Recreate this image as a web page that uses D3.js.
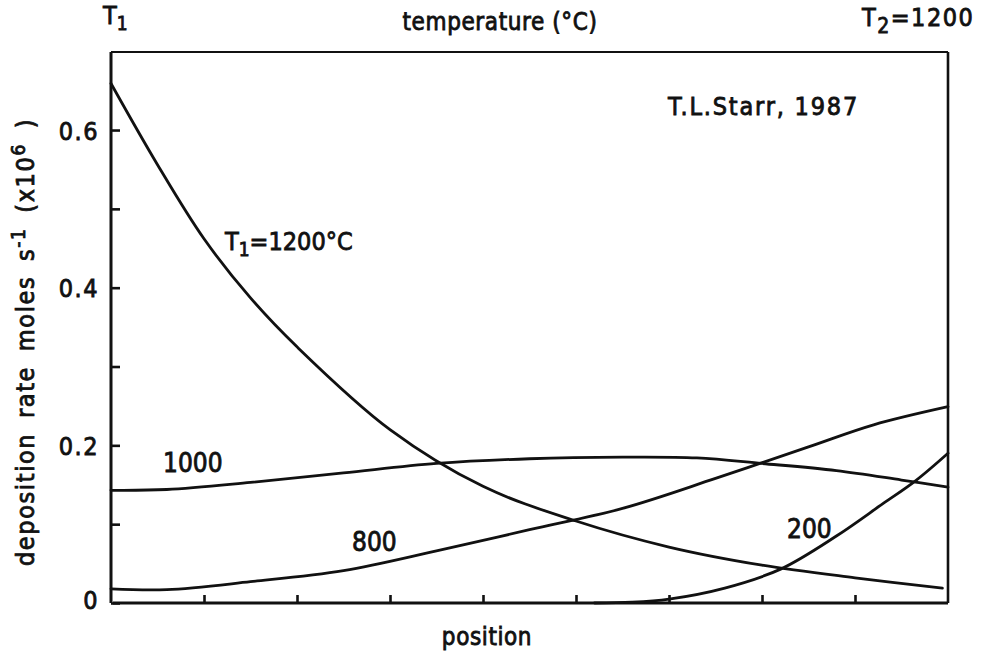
<!DOCTYPE html>
<html>
<head>
<meta charset="utf-8">
<script src="https://cdn.jsdelivr.net/npm/d3@7"></script>
<style>
  html, body { margin: 0; padding: 0; background: #fff; }
  svg text { font-family: "DejaVu Sans Condensed", "DejaVu Sans", sans-serif; fill: #111; stroke: #111; stroke-width: 0.8px; }
</style>
</head>
<body>
<svg id="chart" width="984" height="657"></svg>
<script>
// ---- data (position in arbitrary units 0..9, rate in moles s^-1 x10^6) ----
const yTickValues = [0, 0.2, 0.4, 0.6];
const yMinorTicks = [0.1, 0.3, 0.5];
const xTickValues = [1, 2, 3, 4, 5, 6, 7, 8];

const t1200X = [0, 0.5, 1, 1.5, 2, 3, 4, 5, 6, 7, 8, 8.94];
const t1200Y = [0.659, 0.556, 0.462, 0.387, 0.325, 0.220, 0.148, 0.104, 0.071, 0.048, 0.032, 0.019];

const t1000X = [0, 0.6, 1.5, 2.5, 3.5, 4.5, 5.5, 6.3, 7.0, 7.8, 8.5, 9.0];
const t1000Y = [0.143, 0.144, 0.153, 0.165, 0.177, 0.183, 0.185, 0.184, 0.177, 0.168, 0.156, 0.147];

const t800X = [0, 0.6, 1.5, 2.5, 3.5, 4.5, 5.5, 6.5, 7.5, 8.2, 9.0];
const t800Y = [0.018, 0.017, 0.027, 0.041, 0.066, 0.093, 0.120, 0.158, 0.198, 0.226, 0.249];

const t200X = [5.2, 5.6, 6.0, 6.6, 7.2, 7.8, 8.3, 8.65, 9.0];
const t200Y = [0.0, 0.001, 0.005, 0.019, 0.043, 0.085, 0.126, 0.155, 0.190];

const seriesLabels = ["T1=1200°C", "1000", "800", "200"];

// ---- layout ----
const svg = d3.select("#chart");
const L = 111, R = 948, T = 52, B = 603;
const x = d3.scaleLinear().domain([0, 9]).range([L, R]);
const y = d3.scaleLinear().domain([0, 0.7]).range([B, T - 0.8]);

const ink = "#111";

// frame
svg.append("line").attr("x1", L).attr("x2", L).attr("y1", T).attr("y2", B)
  .attr("stroke", ink).attr("stroke-width", 3);
svg.append("line").attr("x1", L).attr("x2", R).attr("y1", T).attr("y2", T)
  .attr("stroke", ink).attr("stroke-width", 2.2);
svg.append("line").attr("x1", R).attr("x2", R).attr("y1", T).attr("y2", B)
  .attr("stroke", ink).attr("stroke-width", 2.6);
svg.append("line").attr("x1", L + 2).attr("x2", R).attr("y1", B).attr("y2", B)
  .attr("stroke", ink).attr("stroke-width", 3);

// y axis (ticks point inward)
const yAxis = d3.axisLeft(y).tickValues(yTickValues.concat(yMinorTicks))
  .tickSize(-9).tickPadding(12)
  .tickFormat(d => yTickValues.includes(d) ? (d === 0 ? "0" : d.toFixed(1)) : "");
const gy = svg.append("g").attr("transform", `translate(${L},0)`).call(yAxis);
gy.select(".domain").remove();
gy.selectAll(".tick line").attr("stroke", ink).attr("stroke-width", 2.6);
gy.selectAll(".tick text").attr("font-size", 25).attr("fill", ink)
  .attr("dy", d => d === 0 ? "0.2em" : "0.36em")
  .attr("letter-spacing", 1.5)
  .style("font-family", '"DejaVu Sans Condensed", sans-serif');

// x axis ticks (inward, unlabeled)
const xAxis = d3.axisBottom(x).tickValues(xTickValues).tickSize(-8).tickFormat("");
const gx = svg.append("g").attr("transform", `translate(0,${B})`).call(xAxis);
gx.select(".domain").remove();
gx.selectAll(".tick line").attr("stroke", ink).attr("stroke-width", 2.6);

// curves
const line = d3.line().x(d => x(d[0])).y(d => y(d[1])).curve(d3.curveCatmullRom.alpha(0.5));
const series = [
  [t1200X, t1200Y],
  [t1000X, t1000Y],
  [t800X, t800Y],
  [t200X, t200Y]
];
series.forEach(([xs, ys]) => {
  const pts = xs.map((v, i) => [v, ys[i]]);
  svg.append("path").attr("d", line(pts)).attr("fill", "none")
    .attr("stroke", ink).attr("stroke-width", 2.8).attr("stroke-linecap", "round");
});

// text helpers
function txt(xp, yp, size, anchor) {
  return svg.append("text").attr("x", xp).attr("y", yp)
    .attr("font-size", size).attr("text-anchor", anchor || "start");
}

// curve labels
const lab1 = txt(225, 250, 25);
lab1.append("tspan").text("T");
lab1.append("tspan").attr("font-size", 19).attr("dy", 6).text("1");
lab1.append("tspan").attr("dy", -6).text("=1200°C");
txt(163, 472, 26).text(seriesLabels[1]);
txt(352, 551, 26).text(seriesLabels[2]);
txt(787, 538, 26).text(seriesLabels[3]);

// top annotations
const t1 = txt(103, 24, 25);
t1.append("tspan").text("T");
t1.append("tspan").attr("font-size", 19).attr("dy", 6).text("1");
txt(500, 30, 24, "middle").attr("letter-spacing", 0.6).text("temperature (°C)");
const t2 = txt(862, 26, 25).attr("letter-spacing", 1.5);
t2.append("tspan").text("T");
t2.append("tspan").attr("font-size", 21).attr("dy", 7).text("2");
t2.append("tspan").attr("dy", -7).text("=1200");
txt(668, 115, 25).attr("letter-spacing", 1.8).text("T.L.Starr, 1987");

// axis titles
txt(487, 645, 24, "middle").attr("letter-spacing", 0.6).text("position");
const yl = svg.append("text").attr("transform", "translate(34,342) rotate(-90)")
  .attr("text-anchor", "middle").attr("font-size", 25).attr("letter-spacing", 1.6)
  .attr("word-spacing", 6);
yl.append("tspan").text("deposition rate  moles s");
yl.append("tspan").attr("font-size", 19).attr("dy", -9).text("-1");
yl.append("tspan").attr("dy", 9).text(" (x10");
yl.append("tspan").attr("font-size", 19).attr("dy", -9).text("6");
yl.append("tspan").attr("dy", 9).text(" )");
</script>
</body>
</html>
